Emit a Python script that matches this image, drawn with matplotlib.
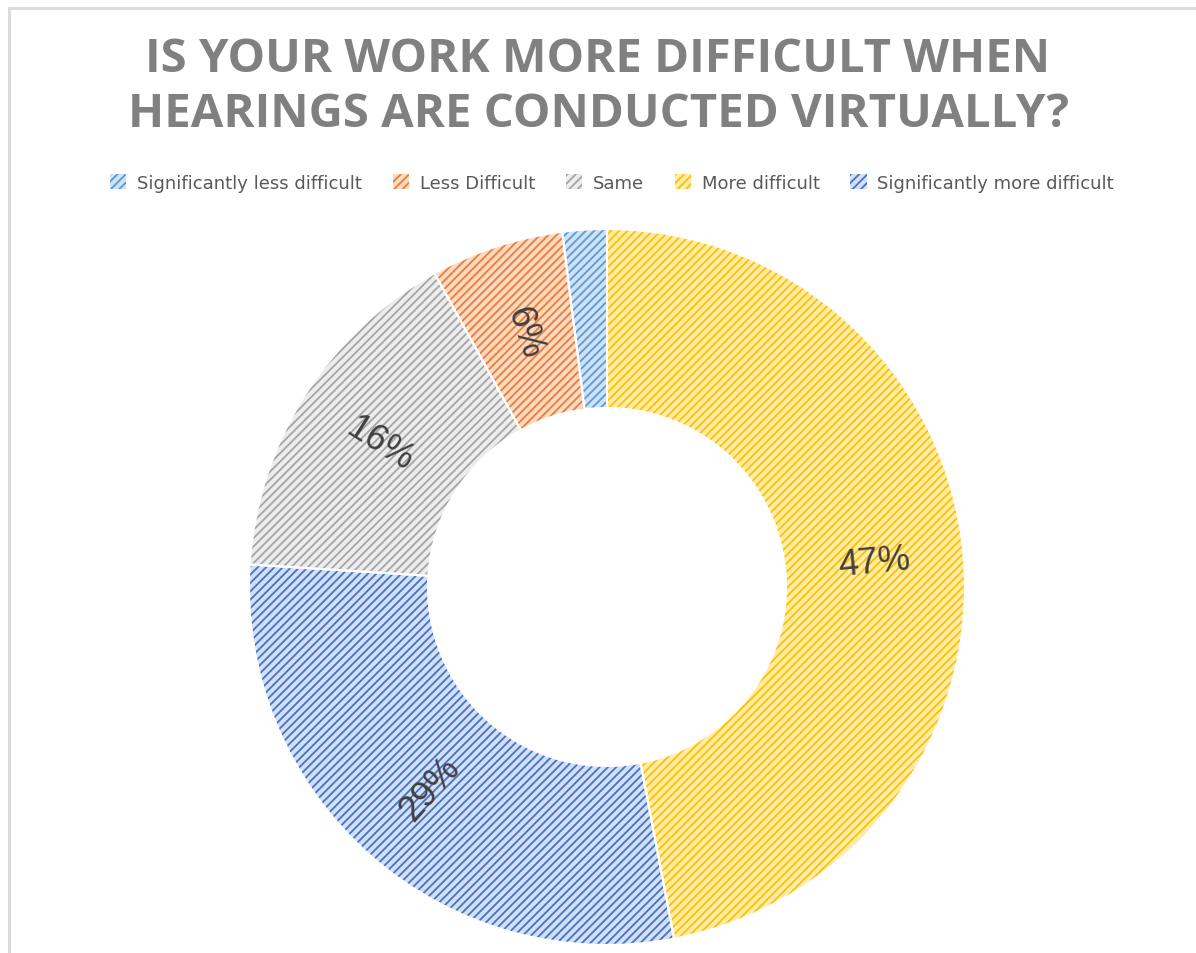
import matplotlib.pyplot as plt
import numpy as np
from matplotlib.patches import Patch, Rectangle

# Survey answers, in legend order
categories = [
    "Significantly less difficult",
    "Less Difficult",
    "Same",
    "More difficult",
    "Significantly more difficult",
]
shares = [2, 6, 16, 47, 29]

# Fill colour and hatch colour for each answer
fill_colors = ["#cfe2f5", "#fbd9c4", "#ececec", "#ffeca8", "#d3dff5"]
hatch_colors = ["#5b9bd5", "#ed7d31", "#a5a5a5", "#ffc000", "#4472c4"]

# Slices run clockwise from the top in this order
ring_order = [3, 4, 2, 1, 0]

title = "IS YOUR WORK MORE DIFFICULT WHEN\nHEARINGS ARE CONDUCTED VIRTUALLY?"

plt.rcParams["hatch.linewidth"] = 1.3

fig = plt.figure(figsize=(11.96, 9.54), dpi=100)
fig.patch.set_facecolor("white")

# Thin grey frame around the chart area
fig.patches.append(Rectangle((9 / 1196, -0.01), 1.1, 1 - 9 / 954 + 0.01,
                             transform=fig.transFigure, fill=False,
                             edgecolor="#dcdcdc", linewidth=2.2))

ax = fig.add_axes([249 / 1196, 8 / 954, 716 / 1196, 716 / 954])

vals = [shares[i] for i in ring_order]
ring_width = 0.5

# Hatched wedges (edge colour drives the hatch colour)
wedges, _ = ax.pie(vals, startangle=90, counterclock=False, radius=1,
                   colors=[fill_colors[i] for i in ring_order],
                   wedgeprops=dict(width=ring_width, linewidth=0))
for w, i in zip(wedges, ring_order):
    w.set_hatch("////")
    w.set_edgecolor(hatch_colors[i])
    w.set_linewidth(0)

# White separators on top
ax.pie(vals, startangle=90, counterclock=False, radius=1,
       colors=["none"] * len(vals),
       wedgeprops=dict(width=ring_width, edgecolor="white", linewidth=1.5))

# Percentage labels, turned along the radius
for w, i in zip(wedges, ring_order):
    if shares[i] < 5:
        continue
    mid = (w.theta1 + w.theta2) / 2
    r = 1 - ring_width / 2
    x = r * np.cos(np.radians(mid))
    y = r * np.sin(np.radians(mid))
    rot = mid if -90 <= mid <= 90 else mid - 180
    if rot < -90:
        rot += 360
    ax.text(x, y, f"{shares[i]}%", ha="center", va="center",
            rotation=rot, rotation_mode="anchor",
            fontsize=26, color="#404040", family="Liberation Sans")

ax.set_xlim(-1, 1)
ax.set_ylim(-1, 1)
ax.axis("off")

fig.text(0.5, 1 - 87 / 954, title, ha="center", va="center",
         fontsize=34, fontweight="bold", color="#808080",
         family="Open Sans", linespacing=1.2)

handles = [Patch(facecolor=fill_colors[i], edgecolor=hatch_colors[i],
                 hatch="////", linewidth=0) for i in range(len(categories))]
fig.legend(handles, categories, loc="center", ncol=5,
           bbox_to_anchor=(612 / 1196, 1 - 184 / 954), frameon=False,
           prop=dict(family="DejaVu Sans", size=13), labelcolor="#595959",
           handlelength=0.9, handleheight=0.9, handletextpad=0.6,
           columnspacing=1.7)

fig.savefig("out.png", dpi=100)
